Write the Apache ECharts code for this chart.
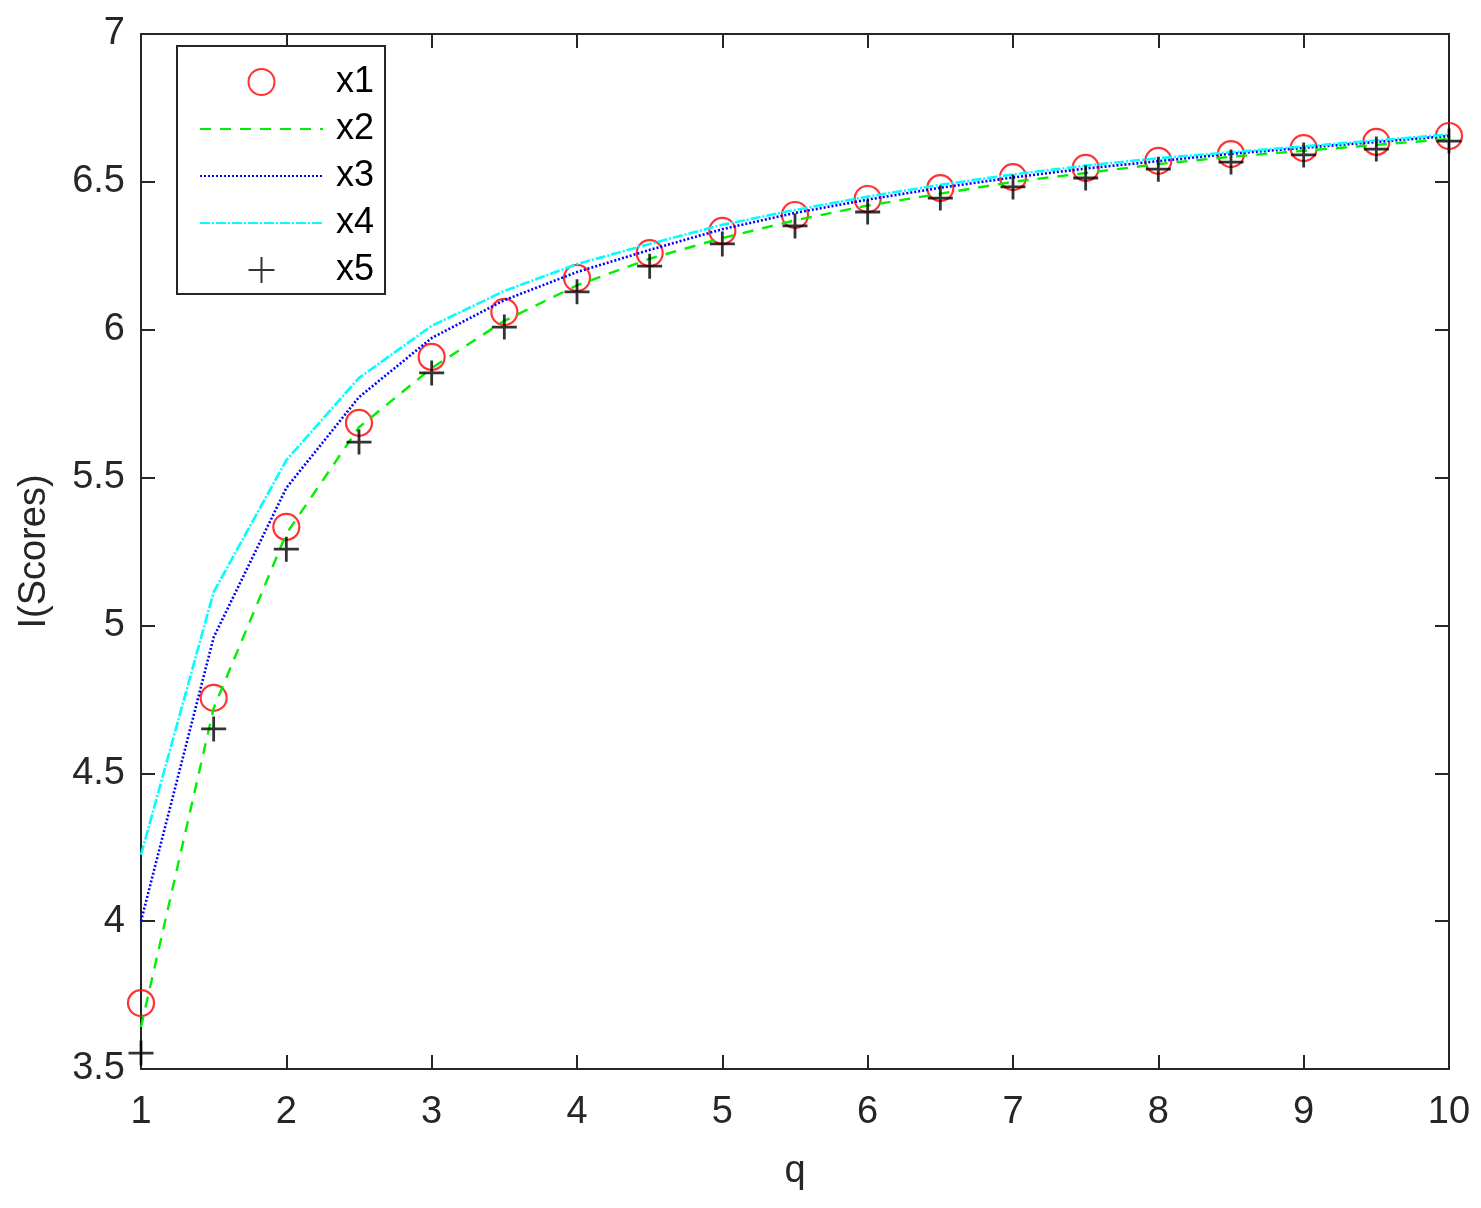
<!DOCTYPE html>
<html>
<head>
<meta charset="utf-8">
<script src="https://cdn.jsdelivr.net/npm/echarts@6/dist/echarts.min.js"></script>
<style>
  html, body { margin: 0; padding: 0; background: #fff; }
  #chart { width: 1481px; height: 1208px; }
</style>
</head>
<body>
<div id="chart"></div>
<script>
const qValues = [1, 1.5, 2, 2.5, 3, 3.5, 4, 4.5, 5, 5.5, 6, 6.5, 7, 7.5, 8, 8.5, 9, 9.5, 10];
const x1 = [3.723, 4.755, 5.333, 5.685, 5.908, 6.060, 6.175, 6.259, 6.334, 6.388, 6.442, 6.479, 6.516, 6.547, 6.571, 6.594, 6.614, 6.635, 6.655];
const x2 = [3.642, 4.720, 5.310, 5.670, 5.870, 6.030, 6.150, 6.240, 6.310, 6.370, 6.420, 6.460, 6.500, 6.530, 6.560, 6.585, 6.605, 6.625, 6.645];
const x3 = [4.000, 4.960, 5.465, 5.772, 5.972, 6.100, 6.195, 6.270, 6.340, 6.395, 6.440, 6.480, 6.515, 6.545, 6.570, 6.595, 6.615, 6.635, 6.655];
const x4 = [4.224, 5.113, 5.559, 5.837, 6.013, 6.131, 6.222, 6.290, 6.355, 6.405, 6.450, 6.490, 6.525, 6.555, 6.580, 6.600, 6.620, 6.640, 6.660];
const x5 = [3.554, 4.650, 5.258, 5.620, 5.854, 6.009, 6.128, 6.215, 6.290, 6.351, 6.398, 6.445, 6.483, 6.513, 6.543, 6.567, 6.591, 6.611, 6.638];
const seriesNames = ['x1', 'x2', 'x3', 'x4', 'x5'];
const xTickLabels = ['1', '2', '3', '4', '5', '6', '7', '8', '9', '10'];
const yTickLabels = ['3.5', '4', '4.5', '5', '5.5', '6', '6.5', '7'];

const pair = arr => qValues.map((q, i) => [q, arr[i]]);
const FONT = '"Liberation Sans", Arial, sans-serif';
const AX = '#262626';

const chart = echarts.init(document.getElementById('chart'), null, { renderer: 'canvas' });

const baseX = {
  type: 'value', min: 1, max: 10, interval: 1,
  splitLine: { show: false },
  axisLine: { show: true, onZero: false, lineStyle: { color: AX, width: 2 } },
  axisTick: { show: true, inside: true, length: 14, lineStyle: { color: AX, width: 2 } }
};
const baseY = {
  type: 'value', min: 3.5, max: 7, interval: 0.5,
  splitLine: { show: false },
  axisLine: { show: true, onZero: false, lineStyle: { color: AX, width: 2 } },
  axisTick: { show: true, inside: true, length: 14, lineStyle: { color: AX, width: 2 } }
};

const hiddenSym = { color: 'rgba(0,0,0,0)', borderWidth: 0, opacity: 0 };

chart.setOption({
  backgroundColor: '#ffffff',
  animation: false,
  grid: { left: 141, right: 32, top: 34, bottom: 139, containLabel: false },
  xAxis: [
    Object.assign({}, baseX, {
      position: 'bottom',
      name: 'q', nameLocation: 'middle', nameGap: 84,
      nameTextStyle: { fontFamily: FONT, fontSize: 38, color: '#262626' },
      axisLabel: {
        margin: 25, fontFamily: FONT, fontSize: 38, color: '#262626',
        formatter: v => xTickLabels[Math.round(v) - 1] || ''
      }
    }),
    Object.assign({}, baseX, { position: 'top', axisLabel: { show: false } })
  ],
  yAxis: [
    Object.assign({}, baseY, {
      position: 'left',
      name: 'I(Scores)', nameLocation: 'middle', nameGap: 87,
      nameTextStyle: { fontFamily: FONT, fontSize: 38, color: '#262626' },
      axisLabel: {
        margin: 16, fontFamily: FONT, fontSize: 38, color: '#262626',
        formatter: v => yTickLabels[Math.round((v - 3.5) / 0.5)] || ''
      }
    }),
    Object.assign({}, baseY, { position: 'right', axisLabel: { show: false } })
  ],
  legend: {
    orient: 'vertical',
    left: 177, top: 46,
    backgroundColor: '#ffffff',
    borderColor: '#262626', borderWidth: 2, borderRadius: 0,
    padding: [18, 11, 6, 22],
    itemWidth: 123, itemHeight: 26, itemGap: 11, itemTextGap: 12,
    textStyle: { fontFamily: FONT, fontSize: 36, color: '#000', padding: [0, 0, 0, 8] },
    data: [
      { name: seriesNames[0] },
      { name: seriesNames[1], itemStyle: hiddenSym },
      { name: seriesNames[2], itemStyle: hiddenSym },
      { name: seriesNames[3], itemStyle: hiddenSym },
      { name: seriesNames[4] }
    ]
  },
  series: [
    {
      name: seriesNames[0], type: 'scatter', data: pair(x1),
      symbol: 'circle', symbolSize: 26,
      itemStyle: { color: 'rgba(0,0,0,0)', borderColor: '#ff0000', borderWidth: 2.2 },
      z: 2
    },
    {
      name: seriesNames[1], type: 'line', data: pair(x2),
      symbol: 'none', showSymbol: false,
      lineStyle: { color: '#00f000', width: 2.4, type: [11, 9] },
      itemStyle: { color: '#00f000' },
      z: 3
    },
    {
      name: seriesNames[2], type: 'line', data: pair(x3),
      symbol: 'none', showSymbol: false,
      lineStyle: { color: '#0000ff', width: 2.6, type: [2, 2] },
      itemStyle: { color: '#0000ff' },
      z: 4
    },
    {
      name: seriesNames[3], type: 'line', data: pair(x4),
      symbol: 'none', showSymbol: false,
      lineStyle: { color: '#00ffff', width: 2.6, type: [10, 2, 2, 2] },
      itemStyle: { color: '#00ffff' },
      z: 5
    },
    {
      name: seriesNames[4], type: 'scatter', data: pair(x5),
      symbol: 'path://M0,10L20,10M10,0L10,20', symbolSize: 25,
      itemStyle: { color: 'rgba(0,0,0,0)', borderColor: '#000000', borderWidth: 2.8 },
      z: 6
    }
  ]
});
</script>
</body>
</html>
